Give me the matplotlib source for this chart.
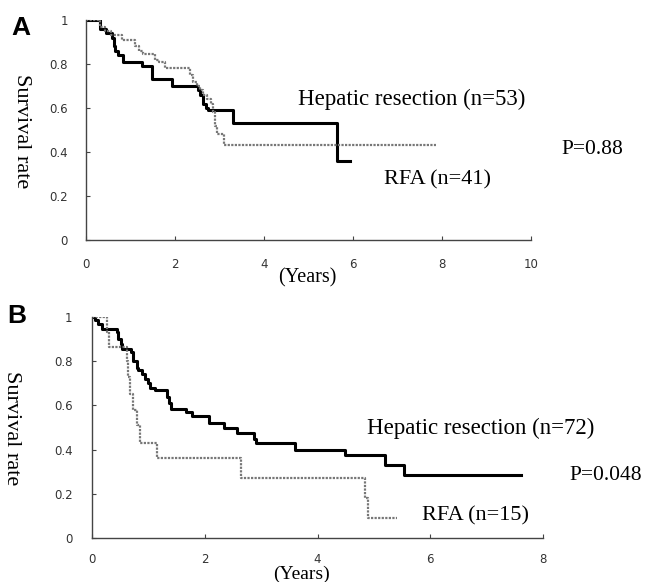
import matplotlib.pyplot as plt

W, H = 647, 582

# panel A (Years, survival)
hep_a_t = [0, 0.31, 0.45, 0.58, 0.62, 0.66, 0.72, 0.84, 1.25, 1.48, 1.93, 2.52, 2.56,
           2.64, 2.70, 2.75, 3.31, 5.63, 5.93]
hep_a_s = [1, 0.96, 0.94, 0.92, 0.88, 0.86, 0.84, 0.81, 0.79, 0.73, 0.70, 0.68, 0.66,
           0.62, 0.60, 0.59, 0.53, 0.36, 0.36]
rfa_a_t = [0, 0.31, 0.42, 0.57, 0.80, 1.10, 1.18, 1.29, 1.55, 1.63, 1.78, 2.34, 2.41,
           2.49, 2.56, 2.64, 2.71, 2.80, 2.86, 2.90, 2.94, 3.09, 7.87]
rfa_a_s = [1, 0.97, 0.95, 0.93, 0.91, 0.88, 0.86, 0.845, 0.82, 0.81, 0.78, 0.75, 0.72,
           0.70, 0.68, 0.66, 0.64, 0.62, 0.58, 0.52, 0.48, 0.43, 0.43]

# panel B
hep_b_t = [0, 0.05, 0.11, 0.17, 0.44, 0.47, 0.51, 0.54, 0.70, 0.73, 0.79, 0.82, 0.88,
           0.94, 1.00, 1.03, 1.12, 1.33, 1.37, 1.40, 1.66, 1.78, 2.08, 2.35, 2.58, 2.88,
           2.91, 3.60, 4.48, 5.19, 5.53, 7.61]
hep_b_s = [1, 0.985, 0.97, 0.945, 0.93, 0.90, 0.88, 0.857, 0.84, 0.80, 0.77, 0.76, 0.74,
           0.72, 0.70, 0.68, 0.67, 0.64, 0.61, 0.585, 0.57, 0.55, 0.52, 0.50, 0.475, 0.45,
           0.43, 0.40, 0.375, 0.33, 0.285, 0.285]
rfa_b_t = [0, 0.26, 0.30, 0.62, 0.64, 0.67, 0.73, 0.79, 0.85, 1.15, 2.64, 4.85, 4.89, 5.41]
rfa_b_s = [1, 0.93, 0.865, 0.80, 0.73, 0.65, 0.58, 0.51, 0.43, 0.36, 0.27, 0.18, 0.09, 0.09]

y_ticks = [0, 0.2, 0.4, 0.6, 0.8, 1]
y_labels = ['0', '0.2', '0.4', '0.6', '0.8', '1']

serif = 'Liberation Serif'

fig = plt.figure(figsize=(W / 100, H / 100), dpi=100)


def px(x, y):
    return x / W, 1 - y / H


def make_axes(left, top, right, bottom, xmax, xpad, ypad):
    ax = fig.add_axes([left / W, 1 - bottom / H, (right - left) / W, (bottom - top) / H])
    ax.set_xlim(0, xmax)
    ax.set_ylim(0, 1)
    for s in ['top', 'right']:
        ax.spines[s].set_visible(False)
    for s in ['left', 'bottom']:
        ax.spines[s].set_color('#444444')
        ax.spines[s].set_linewidth(1.0)
    ax.set_xticks(range(0, xmax + 1, 2))
    ax.set_yticks(y_ticks)
    ax.set_yticklabels(y_labels)
    ax.tick_params(direction='in', length=3, width=0.8, color='#444444',
                   labelsize=8.5, labelcolor='#333333')
    ax.tick_params(axis='x', pad=xpad)
    ax.tick_params(axis='y', pad=ypad)
    return ax


ax1 = make_axes(86, 20, 531, 240, 10, 13, 13)
ax1.step(hep_a_t, hep_a_s, where='post', color='black', lw=2.2)
ax1.step(rfa_a_t, rfa_a_s, where='post', color='#777777', lw=1.6, ls=(0, (1, 0.6)))

ax2 = make_axes(92, 317, 543, 538, 8, 11, 14)
ax2.step(hep_b_t, hep_b_s, where='post', color='black', lw=2.2)
ax2.step(rfa_b_t, rfa_b_s, where='post', color='#777777', lw=1.6, ls=(0, (1, 0.6)))

# panel letters
fig.text(*px(21, 28), 'A', fontsize=19, fontweight='bold', family='Liberation Sans',
         ha='center', va='center')
fig.text(*px(17, 316), 'B', fontsize=19, fontweight='bold', family='Liberation Sans',
         ha='center', va='center')

# axis titles
fig.text(*px(21, 131), 'Survival rate', rotation=270, fontsize=16, family=serif,
         ha='center', va='center')
fig.text(*px(11, 428), 'Survival rate', rotation=270, fontsize=16, family=serif,
         ha='center', va='center')
fig.text(*px(307, 278), '(Years)', fontsize=14.5, family=serif, ha='center', va='center')
fig.text(*px(302, 574), '(Years)', fontsize=14, family=serif, ha='center', va='center')

# annotations
fig.text(*px(412, 99), 'Hepatic resection (n=53)', fontsize=16.5, family=serif,
         ha='center', va='center')
fig.text(*px(437, 180), 'RFA (n=41)', fontsize=16, family=serif, ha='center', va='center')
fig.text(*px(592, 149), 'P=0.88', fontsize=15.5, family=serif, ha='center', va='center')

fig.text(*px(481, 428), 'Hepatic resection (n=72)', fontsize=16.5, family=serif,
         ha='center', va='center')
fig.text(*px(475, 516), 'RFA (n=15)', fontsize=16, family=serif, ha='center', va='center')
fig.text(*px(606, 475), 'P=0.048', fontsize=15.5, family=serif, ha='center', va='center')

fig.savefig('out.png', dpi=100)
